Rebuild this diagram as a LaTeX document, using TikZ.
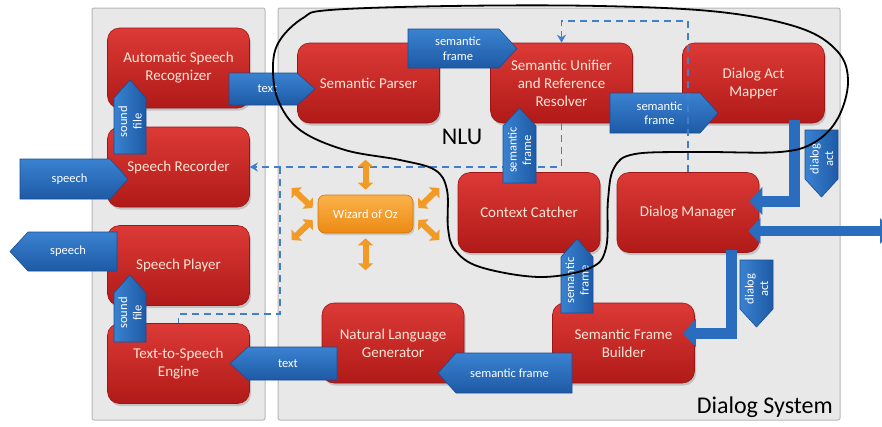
\documentclass[tikz,border=0pt]{standalone}
\usepackage{fontspec}
\setmainfont{Carlito}
\usetikzlibrary{arrows.meta,shadows,calc}
\definecolor{redT}{HTML}{DC3A36}
\definecolor{redB}{HTML}{B01A18}
\definecolor{redE}{HTML}{9C1414}
\definecolor{bluT}{HTML}{3A82D0}
\definecolor{bluB}{HTML}{1E5AA6}
\definecolor{bluE}{HTML}{1A4E92}
\definecolor{bluM}{HTML}{2A6CBE}
\definecolor{dashC}{HTML}{3F7FCB}
\definecolor{orT}{HTML}{FAB24C}
\definecolor{orB}{HTML}{EC8A12}
\definecolor{orE}{HTML}{CF7708}
\definecolor{orA}{HTML}{F29A26}
\definecolor{panelF}{HTML}{E8E8E8}
\definecolor{panelE}{HTML}{B8B8B8}
\definecolor{boxtxt}{HTML}{FCE6D6}
\tikzset{
 redbox/.style={rounded corners=12pt, top color=redT, bottom color=redB, draw=redE, line width=0.6pt,
   minimum width=142pt, minimum height=80pt, text=boxtxt, align=center,
   font=\fontsize{15}{18}\selectfont, inner sep=2pt,
   drop shadow={shadow xshift=1.5pt, shadow yshift=-2.5pt, opacity=0.35}},
 wozbox/.style={rounded corners=7pt, top color=orT, bottom color=orB, draw=orE, line width=0.6pt,
   minimum width=95pt, minimum height=38pt, text=white, font=\fontsize{12.5}{15}\selectfont,
   drop shadow={shadow xshift=1.5pt, shadow yshift=-2pt, opacity=0.3}},
 blkH/.style={top color=bluT, bottom color=bluB, draw=bluE, line width=0.6pt, line join=miter},
 blkV/.style={left color=bluT, right color=bluB, draw=bluE, line width=0.6pt, line join=miter},
 blklbl/.style={text=white, align=center, font=\fontsize{12.5}{14.5}\selectfont, inner sep=0pt},
 panel/.style={fill=panelF, draw=panelE, line width=1pt, rounded corners=2pt},
 dashln/.style={draw=dashC, line width=1.8pt, dash pattern=on 7pt off 5pt},
 dashtip/.style={-{Stealth[length=8pt,width=9pt]}},
 bentarr/.style={draw=bluM, line width=11pt, line join=miter, -{Triangle[length=13pt,width=27pt]}},
 dblarr/.style={draw=bluM, line width=10pt, {Triangle[length=12pt,width=25pt]}-{Triangle[length=12pt,width=25pt]}},
 wozarr/.style={draw=orA, line width=6pt, {Triangle[length=7pt,width=15pt]}-{Triangle[length=7pt,width=15pt]}},
 bigtxt/.style={text=black, font=\fontsize{24}{28}\selectfont, inner sep=0pt},
}
% block arrows: name, x1, y1, x2, y2, label
\newcommand\ArrRgt[6]{%
  \path[blkH] (#2,#3) -- ({#4-18},#3) -- (#4,{(#3+#5)/2}) -- ({#4-18},#5) -- (#2,#5) -- cycle;
  \node[blklbl] (#1) at ({(#2+#4-9)/2},{(#3+#5)/2}) {#6};}
\newcommand\ArrLft[6]{%
  \path[blkH] (#2,{(#3+#5)/2}) -- ({#2+18},#3) -- (#4,#3) -- (#4,#5) -- ({#2+18},#5) -- cycle;
  \node[blklbl] (#1) at ({(#2+9+#4)/2},{(#3+#5)/2}) {#6};}
\newcommand\ArrUpw[6]{%
  \path[blkV] ({(#2+#4)/2},#3) -- (#4,{#3+18}) -- (#4,#5) -- (#2,#5) -- (#2,{#3+18}) -- cycle;
  \node[blklbl, rotate=90] (#1) at ({(#2+#4)/2},{(#3+9+#5)/2}) {#6};}
\newcommand\ArrDwn[6]{%
  \path[blkV] (#2,#3) -- (#4,#3) -- (#4,{#5-18}) -- ({(#2+#4)/2},#5) -- (#2,{#5-18}) -- cycle;
  \node[blklbl, rotate=90] (#1) at ({(#2+#4)/2},{(#3+#5-9)/2}) {#6};}
\begin{document}
\begin{tikzpicture}[x=1pt,y=-1pt]
\fill[white] (0,0) rectangle (882,426);
\useasboundingbox (0,0) rectangle (882,426);
% panels
\path[panel] (92,8) rectangle (265,420);
\path[panel] (278,8) rectangle (840,420);
% boxes
\node[redbox] (asr) at (178.5,68) {Automatic Speech\\Recognizer};
\node[redbox] (rec) at (178.5,167) {Speech Recorder};
\node[redbox] (player) at (178.5,265.5) {Speech Player};
\node[redbox] (tts) at (178.5,363.5) {Text-to-Speech\\Engine};
\node[redbox] (parser) at (368.5,83) {Semantic Parser};
\node[redbox] (unifier) at (561.5,83) {Semantic Unifier\\and Reference\\Resolver};
\node[redbox] (dam) at (753.5,83) {Dialog Act\\Mapper};
\node[redbox] (cc) at (529,212.5) {Context Catcher};
\node[redbox] (dm) at (688,212.5) {Dialog Manager};
\node[redbox] (nlg) at (393,343) {Natural Language\\Generator};
\node[redbox] (sfb) at (623.5,343) {Semantic Frame\\Builder};
\node[wozbox] (woz) at (365.5,214) {Wizard of Oz};
% dashed lines under the arrows
\draw[dashln,dashtip] (unifier.south) |- (rec.east);
\coordinate (j1) at (280,167);
\coordinate (j2) at (280,314);
\draw[dashln] (j1) -- (j2) -| (tts.north);
% block arrows
\ArrRgt{a1}{229}{73}{315}{105}{text}
\ArrRgt{a2}{408}{29}{517}{68}{semantic\\frame}
\ArrRgt{a3}{610}{93}{718}{133}{semantic\\frame}
\ArrRgt{a4}{20}{159}{128}{199}{speech}
\ArrLft{a5}{10}{232}{117}{271}{speech}
\ArrLft{a6}{230}{347}{337}{380}{text}
\ArrLft{a7}{438}{353}{572}{393}{semantic frame}
\ArrUpw{a8}{114}{80}{146}{154}{sound\\file}
\ArrUpw{a9}{114}{275}{146}{342}{sound\\file}
\ArrUpw{a10}{503}{108}{536}{183}{semantic\\frame}
\ArrUpw{a11}{561}{239}{593}{313}{semantic\\frame}
\ArrDwn{a12}{805}{130}{838}{197}{dialog\\act}
\ArrDwn{a13}{740}{260}{773}{327}{dialog\\act}
% bent thick arrows
\draw[bentarr] ([shift={(-30pt,3pt)}]dam.south east) |- ([shift={(-10pt,11.5pt)}]dm.east);
\draw[bentarr] ([shift={(43pt,3pt)}]dm.south) |- ([shift={(-12pt,10pt)}]sfb.east);
\coordinate (outR) at (892,231);
\draw[dblarr] ([shift={(-11pt,-18.5pt)}]dm.east) -- (outR);
% wizard of oz arrows
\draw[wozarr] ([yshift=5pt]woz.north) -- ([yshift=35pt]woz.north);
\draw[wozarr] ([yshift=-5pt]woz.south) -- ([yshift=-37pt]woz.south);
\draw[wozarr] ([shift={(-5pt,6pt)}]woz.west) -- ([shift={(-26pt,26pt)}]woz.west);
\draw[wozarr] ([shift={(-5pt,-6pt)}]woz.west) -- ([shift={(-26pt,-26pt)}]woz.west);
\draw[wozarr] ([shift={(5pt,6pt)}]woz.east) -- ([shift={(26pt,26pt)}]woz.east);
\draw[wozarr] ([shift={(5pt,-6pt)}]woz.east) -- ([shift={(26pt,-26pt)}]woz.east);
% dashed line over the boxes
\coordinate (dtop) at (620,21);
\draw[dashln,dashtip] (dm.north) |- (dtop) -| (unifier.north);
% NLU outline
\draw[line width=1.8pt, black] plot[smooth cycle, tension=0.6] coordinates {
 (303,18) (280,40) (273,65) (278,100) (300,130) (345,150) (400,160) (435,170)
 (447,190) (448,228) (455,250) (480,267) (540,277) (590,268) (606,248) (608,200)
 (614,168) (635,154) (700,152) (780,152) (815,142) (838,118) (848,82) (838,52)
 (800,28) (720,12) (600,6) (450,6) (330,10)};
% labels
\node[bigtxt] (nlu) at (462,137) {NLU};
\node[bigtxt, anchor=east] (dsys) at (833,407) {Dialog System};
\end{tikzpicture}
\end{document}
